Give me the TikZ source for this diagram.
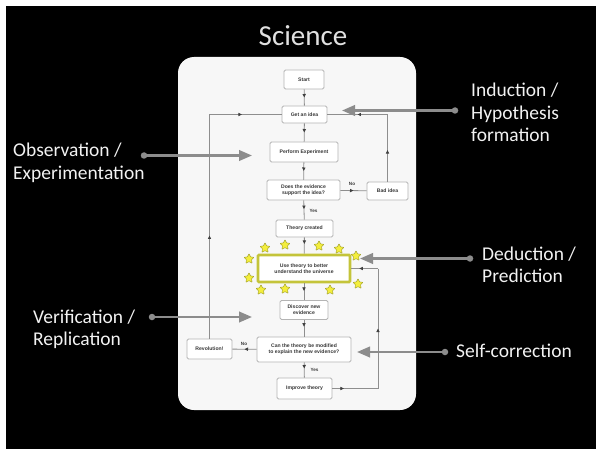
\documentclass[tikz,border=0pt]{standalone}
\usepackage{fontspec}
\setmainfont{Carlito}
\newfontfamily\boxfont{Liberation Sans}
\usetikzlibrary{arrows.meta,shapes.geometric,decorations.markings}

\definecolor{ptr}{HTML}{8C8C8C}
\definecolor{boxline}{HTML}{B4B4B4}
\definecolor{boxtext}{HTML}{383838}
\definecolor{conn}{HTML}{8E8E8E}
\definecolor{olivey}{HTML}{C4C43A}
\definecolor{staryel}{HTML}{F4EE3C}
\definecolor{labtext}{HTML}{F2F2F2}

\tikzset{
  fbox/.style={draw=boxline, fill=white, line width=0.9pt, rounded corners=1.5pt,
    inner sep=0pt, align=center, font=\boxfont\bfseries\fontsize{5.1}{6.3}\selectfont, text=boxtext},
  flow/.style={draw=conn, line width=0.8pt},
  midarr/.style={postaction={decorate}, decoration={markings,
    mark=at position #1 with {\arrow{Triangle[length=3.5pt,width=3.2pt,color=black!75]}}}},
  midarr/.default=0.5,
  yn/.style={font=\boxfont\bfseries\fontsize{4.6}{5}\selectfont, text=boxtext, inner sep=0pt},
  lab/.style={anchor=base west, inner sep=0pt, text=labtext, font=\fontsize{19.5}{22.5}\selectfont},
  pointer/.style={draw=ptr, line width=2.4pt, -{Triangle[length=13pt,width=10.5pt]}},
  pdot/.style={circle, fill=ptr, minimum size=6.5pt, inner sep=0pt},
  starry/.style={star, star points=5, star point ratio=2.0, minimum size=10.5pt, inner sep=0pt,
    fill=staryel, draw=olivey!85!black, line width=0.5pt, rounded corners=0.4pt}
}

\begin{document}
\begin{tikzpicture}[x=1pt,y=-1pt]
\useasboundingbox (0,0) rectangle (596,449);
\fill[white] (0,0) rectangle (596,449);
\fill[black] (6,6) rectangle (596,449);

% title
\node[text=black!12, font=\fontsize{29}{32}\selectfont, anchor=base, inner sep=0pt] (title) at (303,46) {Science};

% white panel
\fill[white!97!black, rounded corners=16pt] (178,57) rectangle (416,410);

% flowchart boxes
\node[fbox, minimum width=40pt, minimum height=19pt] (start) at (304,79.5) {Start};
\node[fbox, minimum width=45pt, minimum height=17pt] (idea) at (304.5,114.5) {Get an idea};
\node[fbox, minimum width=68pt, minimum height=20pt] (perform) at (304,152) {Perform Experiment};
\node[fbox, minimum width=73pt, minimum height=20pt] (does) at (303.5,190) {Does the evidence\\support the idea?};
\node[fbox, minimum width=41pt, minimum height=18pt] (bad) at (387.5,191) {Bad idea};
\node[fbox, minimum width=57pt, minimum height=17pt] (theory) at (304.5,228.5) {Theory created};
\node[fbox, minimum width=92pt, minimum height=27pt, draw=olivey, line width=2.6pt, rounded corners=1pt] (use) at (304,268.5) {Use theory to better\\understand the universe};
\node[fbox, minimum width=48pt, minimum height=19pt] (discover) at (304,310) {Discover new\\evidence};
\node[fbox, minimum width=94pt, minimum height=25pt] (can) at (304,349.5) {Can the theory be modified\\to explain the new evidence?};
\node[fbox, minimum width=45pt, minimum height=20pt] (revo) at (209.5,349) {Revolution!};
\node[fbox, minimum width=55pt, minimum height=21pt] (improve) at (304.5,388.5) {Improve theory};

% stars
\foreach \sx/\sy [count=\i] in {265/248, 285/245, 319/246, 339/249, 356/256, 249/259, 249/278, 358/284, 261/290, 285/289, 330/290}
  \node[starry, name=st\i] at (\sx,\sy) {};

% connector corners
\coordinate (lt) at (209.5,114.5);
\coordinate (rt) at (387.5,114.5);
\coordinate (ib) at (378,388.5);
\coordinate (iu) at (378,268.5);

% straight connectors
\draw[flow, midarr] (start) -- (idea);
\draw[flow, midarr] (idea) -- (perform);
\draw[flow, midarr] (perform) -- (does);
\draw[flow, midarr] (does) -- (bad);
\draw[flow, midarr=0.45] (does) -- (theory);
\draw[flow, midarr=0.4] (theory) -- (use);
\draw[flow, midarr=0.45] (use) -- (discover);
\draw[flow, midarr=0.4] (discover) -- (can);
\draw[flow, midarr] (can) -- (revo);
\draw[flow, midarr=0.4] (can) -- (improve);

% loops
\draw[flow, midarr=0.46] (revo) -- (lt);
\draw[flow, midarr=0.45] (lt) -- (idea);
\draw[flow, midarr=0.47] (bad) -- (rt);
\draw[flow, midarr=0.5] (rt) -- (idea);
\draw[flow, midarr=0.25] (improve) -- (ib);
\draw[flow, midarr=0.5] (ib) -- (iu);
\draw[flow, midarr=0.7] (iu) -- (use);

% yes / no labels
\node[yn] (no1) at (352,184) {No};
\node[yn] (yes1) at (313.5,210.5) {Yes};
\node[yn] (no2) at (244,343.5) {No};
\node[yn] (yes2) at (314.5,370) {Yes};

% side labels
\node[lab] (lind) at (471,97) {\begin{tabular}[t]{@{}l@{}}Induction /\\Hypothesis\\formation\end{tabular}};
\node[lab] (lded) at (482,260) {\begin{tabular}[t]{@{}l@{}}Deduction /\\Prediction\end{tabular}};
\node[lab] (lself) at (456,357.5) {Self-correction};
\node[lab] (lobs) at (13,157) {\begin{tabular}[t]{@{}l@{}}Observation /\\Experimentation\end{tabular}};
\node[lab] (lver) at (33,323) {\begin{tabular}[t]{@{}l@{}}Verification /\\Replication\end{tabular}};

% pointers
\node[pdot] (dind) at (455,110.5) {};
\node[pdot] (dded) at (470,258.5) {};
\node[pdot] (dself) at (445,352) {};
\node[pdot] (dobs) at (144,155.5) {};
\node[pdot] (dver) at (152,317) {};
\coordinate (tind) at (342,110.5);
\coordinate (tded) at (360,258.5);
\coordinate (tself) at (357,352);
\coordinate (tobs) at (252,155.5);
\coordinate (tver) at (252,317);
\draw[pointer] (dind.center) -- (tind);
\draw[pointer] (dded.center) -- (tded);
\draw[pointer] (dself.center) -- (tself);
\draw[pointer] (dobs.center) -- (tobs);
\draw[pointer] (dver.center) -- (tver);
\end{tikzpicture}
\end{document}
